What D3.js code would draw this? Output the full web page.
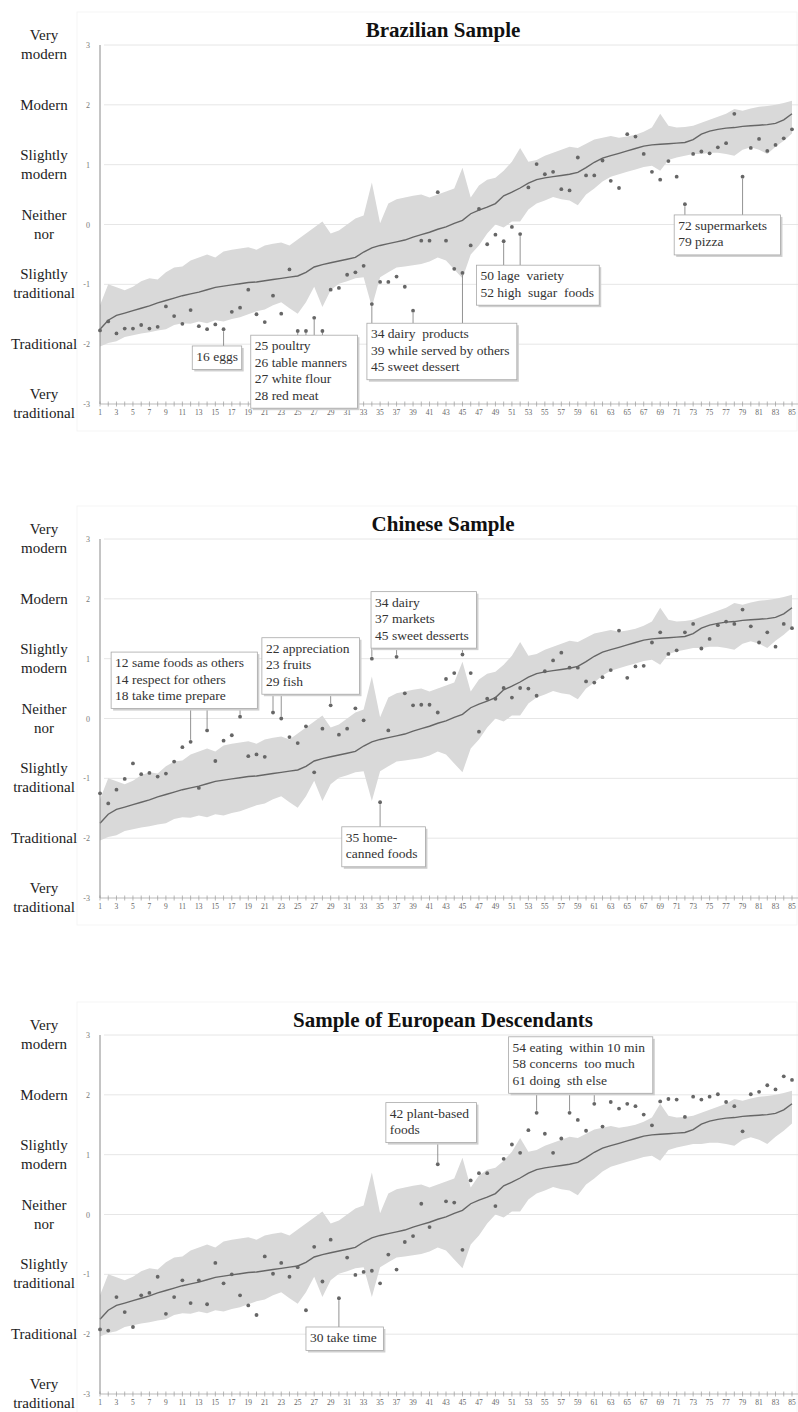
<!DOCTYPE html>
<html>
<head>
<meta charset="utf-8">
<script src="https://cdn.jsdelivr.net/npm/d3@7"></script>
<style>
  html, body { margin: 0; padding: 0; background: #fff; }
  svg { display: block; font-family: "Liberation Serif", "Times New Roman", serif; }
</style>
</head>
<body>
<svg id="chart" width="798" height="1412"></svg>
<script>
// ---- data ----------------------------------------------------------------
const itemNumbers = d3.range(1, 86);
const axisTickLabels = itemNumbers.filter(n => n % 2 === 1);
const scoreTicks = [-3, -2, -1, 0, 1, 2, 3];
const scoreLabels = [
  ["Very", "traditional"], ["Traditional"], ["Slightly", "traditional"],
  ["Neither", "nor"], ["Slightly", "modern"], ["Modern"], ["Very", "modern"]
];

// overall mean per item and the range across samples
const meanScore = [
  -1.75, -1.6, -1.52, -1.48, -1.44, -1.4, -1.36, -1.31, -1.27, -1.23,
  -1.19, -1.16, -1.13, -1.09, -1.05, -1.03, -1.01, -0.99, -0.97, -0.96,
  -0.94, -0.92, -0.9, -0.88, -0.86, -0.8, -0.71, -0.67, -0.64, -0.61,
  -0.58, -0.55, -0.46, -0.39, -0.35, -0.32, -0.29, -0.26, -0.21, -0.17,
  -0.13, -0.08, -0.04, 0.02, 0.07, 0.18, 0.24, 0.29, 0.35, 0.48,
  0.54, 0.61, 0.69, 0.75, 0.78, 0.8, 0.82, 0.84, 0.87, 0.95,
  1.04, 1.11, 1.15, 1.19, 1.23, 1.27, 1.31, 1.33, 1.34, 1.35,
  1.36, 1.37, 1.42, 1.51, 1.56, 1.59, 1.61, 1.62, 1.64, 1.65,
  1.66, 1.67, 1.69, 1.75, 1.85
];
const rangeHigh = [
  -1.35, -1.0, -1.05, -1.1, -1.04, -0.95, -0.9, -0.92, -0.8, -0.72,
  -0.7, -0.6, -0.55, -0.5, -0.55, -0.45, -0.42, -0.4, -0.38, -0.42,
  -0.35, -0.32, -0.3, -0.35, -0.25, -0.15, -0.05, 0.05, -0.15, -0.1,
  0.0, 0.1, 0.15, 0.7, 0.02, 0.35, 0.42, 0.45, 0.48, 0.5,
  0.45, 0.5, 0.55, 0.6, 0.95, 0.45, 0.65, 0.75, 0.78, 0.9,
  1.05, 1.28, 1.05, 1.08, 1.15, 1.2, 1.25, 1.3, 1.28, 1.35,
  1.42, 1.45, 1.48, 1.45, 1.47, 1.5, 1.55, 1.62, 1.85, 1.65,
  1.62, 1.63, 1.65, 1.7, 1.75, 1.8, 1.85, 1.93, 1.9, 1.94,
  1.97, 1.98, 2.0, 2.03, 2.07
];
const rangeLow = [
  -2.04, -1.98, -1.95, -1.88, -1.85, -1.82, -1.8, -1.77, -1.75, -1.68,
  -1.65, -1.66, -1.62, -1.65, -1.6, -1.62, -1.58, -1.55, -1.5, -1.45,
  -1.42, -1.35, -1.3, -1.4, -1.49, -1.3, -1.04, -1.38, -1.1, -0.99,
  -0.95, -0.9, -0.88, -1.38, -0.88, -0.8, -0.72, -0.7, -0.68, -0.66,
  -0.62, -0.55, -0.6, -0.75, -0.9, -0.5, -0.35, -0.15, 0.0, -0.05,
  0.05, 0.05, 0.25, 0.35, 0.4, 0.46, 0.42, 0.4, 0.32, 0.5,
  0.6, 0.72, 0.8, 0.84, 0.88, 0.92, 0.96, 0.98, 0.9, 1.08,
  1.12, 1.15, 1.18, 1.18, 1.2, 1.2, 1.18, 1.15, 1.25, 1.29,
  1.25, 1.18, 1.3, 1.4, 1.52
];

// sample means per item
const brazilian = [
  -1.77, -1.62, -1.82, -1.74, -1.74, -1.68, -1.74, -1.71, -1.37, -1.53,
  -1.66, -1.43, -1.7, -1.75, -1.67, -1.75, -1.46, -1.39, -1.09, -1.5,
  -1.63, -1.19, -1.49, -0.75, -1.78, -1.78, -1.56, -1.78, -1.09, -1.06,
  -0.84, -0.8, -0.69, -1.33, -0.96, -0.96, -0.87, -1.04, -1.44, -0.27,
  -0.27, 0.54, -0.27, -0.74, -0.81, -0.35, 0.26, -0.33, -0.17, -0.28,
  -0.04, -0.16, 0.62, 1.01, 0.84, 0.88, 0.59, 0.57, 1.12, 0.82,
  0.82, 1.07, 0.73, 0.61, 1.51, 1.47, 1.18, 0.88, 0.75, 1.06,
  0.8, 0.34, 1.18, 1.22, 1.19, 1.29, 1.36, 1.85, 0.8, 1.28,
  1.43, 1.23, 1.33, 1.44, 1.59
];
const chinese = [
  -1.25, -1.42, -1.19, -1.01, -0.75, -0.93, -0.91, -0.97, -0.92, -0.72,
  -0.48, -0.39, -1.16, -0.2, -0.71, -0.37, -0.28, 0.03, -0.63, -0.6,
  -0.64, 0.1, 0.0, -0.31, -0.41, -0.13, -0.9, -0.17, 0.22, -0.27,
  -0.17, 0.17, -0.03, 1.0, -1.4, -0.2, 1.03, 0.42, 0.22, 0.23,
  0.23, 0.1, 0.66, 0.76, 1.07, 0.76, -0.22, 0.33, 0.33, 0.51,
  0.35, 0.51, 0.5, 0.38, 0.79, 0.97, 1.1, 0.85, 0.85, 0.62,
  0.6, 0.69, 0.81, 1.47, 0.68, 0.87, 0.88, 1.27, 1.44, 1.08,
  1.14, 1.44, 1.58, 1.17, 1.33, 1.56, 1.62, 1.58, 1.82, 1.54,
  1.27, 1.44, 1.2, 1.58, 1.51
];
const european = [
  -1.92, -1.94, -1.38, -1.63, -1.88, -1.35, -1.31, -1.04, -1.66, -1.38,
  -1.1, -1.48, -1.1, -1.5, -0.81, -1.15, -1.0, -1.35, -1.52, -1.68,
  -0.7, -0.99, -0.81, -1.04, -0.88, -1.6, -0.54, -1.12, -0.42, -1.4,
  -0.72, -1.01, -0.96, -0.94, -1.15, -0.67, -0.92, -0.46, -0.36, 0.18,
  -0.21, 0.84, 0.22, 0.2, -0.59, 0.57, 0.69, 0.69, 0.14, 0.93,
  1.17, 1.03, 1.41, 1.7, 1.35, 1.03, 1.27, 1.7, 1.58, 1.4,
  1.85, 1.47, 1.88, 1.77, 1.85, 1.81, 1.67, 1.49, 1.89, 1.93,
  1.92, 1.63, 1.97, 1.92, 1.97, 2.01, 1.88, 1.81, 1.39, 2.01,
  2.05, 2.16, 2.09, 2.31, 2.25
];

// labelled items per sample
const brazilianNotes = [
  { items: [16], lines: ["16 eggs"] },
  { items: [25, 26, 27, 28], lines: ["25 poultry", "26 table manners", "27 white flour", "28 red meat"] },
  { items: [34, 39, 45], lines: ["34 dairy  products", "39 while served by others", "45 sweet dessert"] },
  { items: [50, 52], lines: ["50 lage  variety", "52 high  sugar  foods"] },
  { items: [72, 79], lines: ["72 supermarkets", "79 pizza"] }
];
const chineseNotes = [
  { items: [12, 14, 18], lines: ["12 same foods as others", "14 respect for others", "18 take time prepare"] },
  { items: [22, 23, 29], lines: ["22 appreciation", "23 fruits", "29 fish"] },
  { items: [34, 37, 45], lines: ["34 dairy", "37 markets", "45 sweet desserts"] },
  { items: [35], lines: ["35 home-", "canned foods"] }
];
const europeanNotes = [
  { items: [30], lines: ["30 take time"] },
  { items: [42], lines: ["42 plant-based", "foods"] },
  { items: [54, 58, 61], lines: ["54 eating  within 10 min", "58 concerns  too much", "61 doing  sth else"] }
];

// ---- layout ----------------------------------------------------------------
// note boxes: [first item, last item, top score] in data units
const brazilianBoxes = [[12.2, 18.2, -2.03], [19.3, 32.25, -1.85], [33.4, 51.6, -1.65], [46.7, 61.6, -0.68], [70.7, 83.6, 0.16]];
const chineseBoxes = [[2.35, 20.1, 1.11], [20.65, 32.5, 1.35], [33.9, 46.7, 2.12], [30.35, 40.5, -1.81]];
const europeanBoxes = [[26.0, 35.4, -1.88], [35.7, 46.7, 1.87], [50.6, 68.1, 2.97]];

const panels = [
  { title: "Brazilian Sample", values: brazilian, notes: brazilianNotes, boxes: brazilianBoxes, top: 45 },
  { title: "Chinese Sample", values: chinese, notes: chineseNotes, boxes: chineseBoxes, top: 539 },
  { title: "Sample of European Descendants", values: european, notes: europeanNotes, boxes: europeanBoxes, top: 1035 }
];

const plotLeft = 100, plotRight = 792, plotHeight = 359;
const lineStep = 16.5;
const svg = d3.select("#chart");
const x = d3.scaleLinear().domain([1, 85]).range([plotLeft, plotRight]);

panels.forEach(p => {
  const y = d3.scaleLinear().domain([-3, 3]).range([p.top + plotHeight, p.top]);
  const g = svg.append("g");

  // faint chart-area frame
  g.append("rect")
    .attr("x", 77).attr("y", p.top - 33)
    .attr("width", 720).attr("height", plotHeight + 60)
    .attr("fill", "none").attr("stroke", "#f5f5f5");

  // title
  g.append("text")
    .attr("x", 443).attr("y", p.top - 8)
    .attr("text-anchor", "middle")
    .attr("font-size", 21).attr("font-weight", "bold").attr("fill", "#111")
    .text(p.title);

  // horizontal grid
  g.selectAll(".grid").data(scoreTicks.filter(t => t > -3)).join("line")
    .attr("x1", plotLeft + 4).attr("x2", 798)
    .attr("y1", d => y(d)).attr("y2", d => y(d))
    .attr("stroke", "#e6e6e6").attr("stroke-width", 1);

  // range band
  const area = d3.area()
    .x((d, i) => x(itemNumbers[i]))
    .y0((d, i) => y(rangeLow[i]))
    .y1((d, i) => y(rangeHigh[i]));
  g.append("path").datum(itemNumbers).attr("d", area).attr("fill", "#d9d9d9");

  // mean line
  const line = d3.line().x((d, i) => x(itemNumbers[i])).y(d => y(d));
  g.append("path").datum(meanScore).attr("d", line)
    .attr("fill", "none").attr("stroke", "#666").attr("stroke-width", 1.4);

  // y axis and tick numbers
  g.append("line")
    .attr("x1", plotLeft).attr("x2", plotLeft)
    .attr("y1", y(3)).attr("y2", y(-3))
    .attr("stroke", "#8a8a8a").attr("stroke-width", 1);
  g.selectAll(".ynum").data(scoreTicks).join("text")
    .attr("x", 90).attr("y", d => y(d) + 3)
    .attr("text-anchor", "end").attr("font-size", 8).attr("fill", "#777")
    .text(d => d);

  // scale wording
  scoreTicks.forEach((t, k) => {
    const words = scoreLabels[k];
    const txt = g.append("text")
      .attr("x", 44).attr("text-anchor", "middle")
      .attr("font-size", 15).attr("fill", "#222");
    if (words.length === 1) {
      txt.attr("y", y(t) + 5).text(words[0]);
    } else {
      txt.append("tspan").attr("x", 44).attr("y", y(t) - 5).text(words[0]);
      txt.append("tspan").attr("x", 44).attr("y", y(t) + 14).text(words[1]);
    }
  });

  // x axis
  const axisY = y(-3);
  g.append("line")
    .attr("x1", plotLeft).attr("x2", 798)
    .attr("y1", axisY).attr("y2", axisY)
    .attr("stroke", "#aaa").attr("stroke-width", 0.8);
  g.selectAll(".xtick").data(itemNumbers).join("line")
    .attr("x1", d => x(d)).attr("x2", d => x(d))
    .attr("y1", axisY - 2.5).attr("y2", axisY + 2.5)
    .attr("stroke", "#999").attr("stroke-width", 0.7);
  g.selectAll(".xnum").data(axisTickLabels).join("text")
    .attr("x", d => x(d)).attr("y", axisY + 11)
    .attr("text-anchor", "middle").attr("font-size", 7.5).attr("fill", "#666")
    .text(d => d);

  // sample points
  g.selectAll(".pt").data(p.values).join("circle")
    .attr("cx", (d, i) => x(itemNumbers[i]))
    .attr("cy", d => y(d))
    .attr("r", 1.9)
    .attr("fill", "#666");

  // labelled items: leader lines and boxes
  p.notes.forEach((note, k) => {
    const [from, to, topScore] = p.boxes[k];
    const bx = x(from), bw = x(to) - x(from);
    const by = y(topScore), bh = note.lines.length * lineStep + 7;

    note.items.forEach(item => {
      const py = y(p.values[item - 1]);
      const below = by > py;
      g.append("line")
        .attr("x1", x(item)).attr("x2", x(item))
        .attr("y1", below ? py + 2 : py - 2)
        .attr("y2", below ? by : by + bh)
        .attr("stroke", "#777").attr("stroke-width", 0.8);
    });

    g.append("rect")
      .attr("x", bx + 2).attr("y", by + 2).attr("width", bw).attr("height", bh)
      .attr("fill", "#cfcfcf");
    g.append("rect")
      .attr("x", bx).attr("y", by).attr("width", bw).attr("height", bh)
      .attr("fill", "#fff").attr("stroke", "#a8a8a8").attr("stroke-width", 0.8);
    note.lines.forEach((ln, j) => {
      g.append("text")
        .attr("x", bx + 4).attr("y", by + 15 + j * lineStep)
        .attr("font-size", 13.5).attr("fill", "#333")
        .style("white-space", "pre")
        .text(ln);
    });
  });
});
</script>
</body>
</html>
